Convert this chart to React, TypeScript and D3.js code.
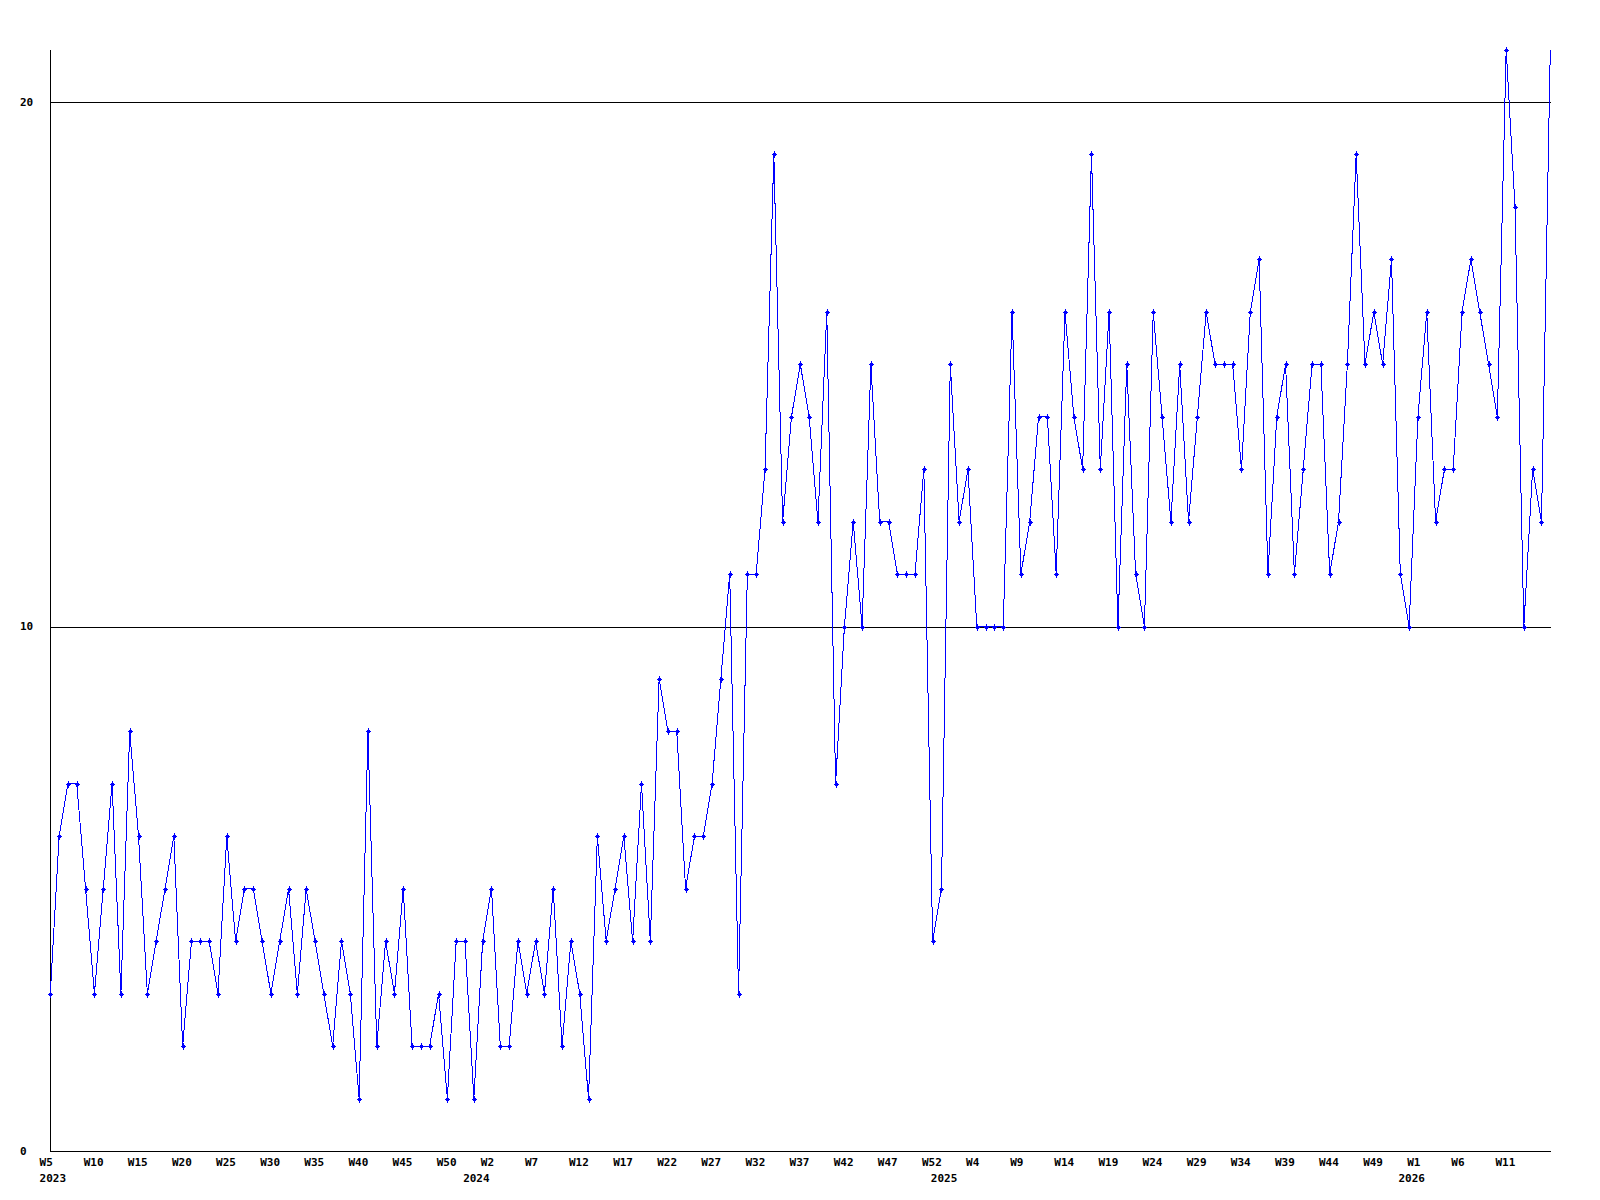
import React from 'react';
import * as d3 from 'd3';

// Weekly counts, 2023 W5 .. 2026 W16
const values: number[] = [
  3, 6, 7, 7, 5, 3, 5, 7, 3, 8,
  6, 3, 4, 5, 6, 2, 4, 4, 4, 3,
  6, 4, 5, 5, 4, 3, 4, 5, 3, 5,
  4, 3, 2, 4, 3, 1, 8, 2, 4, 3,
  5, 2, 2, 2, 3, 1, 4, 4, 1, 4,
  5, 2, 2, 4, 3, 4,
  3, 5, 2, 4, 3, 1, 6, 4, 5, 6, 4, 7, 4, 9, 8, 8, 5, 6, 6, 7, 9, 11, 3,
  11, 11, 13, 19, 12, 14, 15, 14, 12, 16,
  7, 10, 12, 10, 15, 12, 12, 11, 11, 11,
  13, 4, 5, 15, 12, 13, 10, 10, 10, 10,
  16, 11, 12, 14, 14, 11, 16, 14, 13, 19,
  13, 16, 10,
  15, 11, 10, 16, 14, 12, 15, 12, 14, 16,
  15, 15, 15, 13, 16, 17, 11, 14, 15, 11,
  13, 15, 15, 11, 12,
  15, 19, 15, 16, 15, 17, 11, 10, 14, 16,
  12, 13, 13, 16, 17, 16, 15, 14, 21, 18,
  10, 13, 12, 21,
];

// Week numbering segments (weeks numbered W0..W52 within a year)
const yearSegments = [
  { year: 2023, first: 5, last: 52 },
  { year: 2024, first: 0, last: 52 },
  { year: 2025, first: 0, last: 52 },
  { year: 2026, first: 0, last: 16 },
];

const yTickValues = [0, 10, 20];
const gridValues = [10, 20];
const labelStep = 5;
const yMax = 21;

type Wk = { year: number; week: number; firstOfYear: boolean };
const weeks: Wk[] = [];
yearSegments.forEach((s) => {
  for (let w = s.first; w <= s.last; w++) {
    weeks.push({ year: s.year, week: w, firstOfYear: w === s.first });
  }
});

const LEFT = 50.3;
const RIGHT = 1550.3;
const BOTTOM = 1151;
const TOP = 49.6;

export default function App() {
  const n = values.length;
  const x = d3.scaleLinear().domain([0, n - 1]).range([LEFT, RIGHT]);
  const y = d3.scaleLinear().domain([0, yMax]).range([BOTTOM, TOP]);

  const line = d3
    .line<number>()
    .x((_, i) => x(i))
    .y((d) => y(d));

  const blue = '#0000ff';

  return (
    <svg
      width={1600}
      height={1200}
      style={{ position: 'absolute', left: 0, top: 0, background: '#ffffff' }}
      fontFamily="'DejaVu Sans Mono', monospace"
      fontWeight="bold"
      fontSize={11}
    >
      <defs>
        <clipPath id="mk">
          <rect x={0} y={0} width={1547} height={1200} />
        </clipPath>
      </defs>
      {gridValues.map((g) => (
        <line
          key={g}
          x1={LEFT}
          x2={RIGHT + 1}
          y1={Math.round(y(g)) + 0.5}
          y2={Math.round(y(g)) + 0.5}
          stroke="#000"
          strokeWidth={1}
          shapeRendering="crispEdges"
        />
      ))}
      <line x1={50.5} x2={50.5} y1={TOP} y2={BOTTOM + 1} stroke="#000" shapeRendering="crispEdges" />
      <line x1={LEFT} x2={RIGHT + 1} y1={BOTTOM + 0.5} y2={BOTTOM + 0.5} stroke="#000" shapeRendering="crispEdges" />

      <path d={line(values) || ''} fill="none" stroke={blue} strokeWidth={1} shapeRendering="crispEdges" />

      <g clipPath="url(#mk)" fill={blue} shapeRendering="crispEdges">
        {values.map((v, i) => {
          const cx = Math.round(x(i));
          const cy = Math.round(y(v));
          return (
            <g key={i}>
              <rect x={cx - 1} y={cy - 1} width={3} height={3} />
              <rect x={cx - 2} y={cy} width={5} height={1} />
              <rect x={cx} y={cy - 3} width={1} height={7} />
            </g>
          );
        })}
      </g>

      {yTickValues.map((t) => (
        <text key={t} x={20} y={y(t) + 3.5} fill="#000">
          {String(t)}
        </text>
      ))}

      {weeks.map((w, i) =>
        i % labelStep === 0 && i < n - 1 ? (
          <text key={'w' + i} x={x(i) - 10.7} y={1165.5} fill="#000">
            {'W' + w.week}
          </text>
        ) : null
      )}
      {weeks.map((w, i) =>
        w.firstOfYear ? (
          <text key={'y' + i} x={x(i) - 10.7} y={1181.5} fill="#000">
            {String(w.year)}
          </text>
        ) : null
      )}
    </svg>
  );
}
